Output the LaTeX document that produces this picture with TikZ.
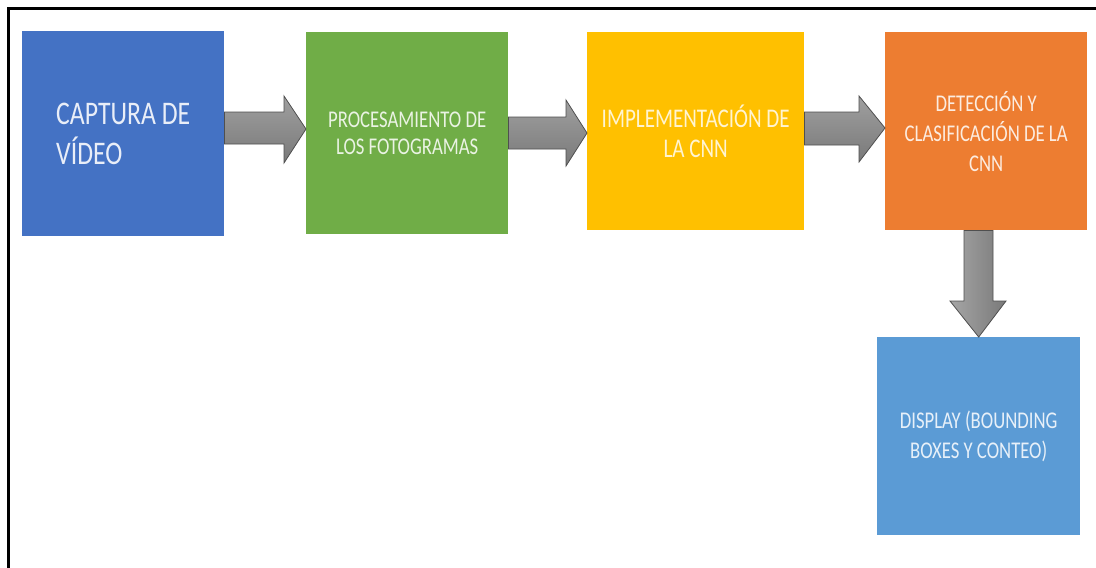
\documentclass[tikz,border=0pt]{standalone}
\usepackage{fontspec}
\newfontfamily\boxfont[FakeStretch=0.78]{Carlito}
\usetikzlibrary{calc}
\definecolor{cblue}{HTML}{4472C4}
\definecolor{cgreen}{HTML}{70AD47}
\definecolor{cyellow}{HTML}{FFC000}
\definecolor{corange}{HTML}{ED7D31}
\definecolor{clblue}{HTML}{5B9BD5}
\definecolor{arrowedge}{HTML}{4F4F4F}
\tikzset{
  stagebox/.style={rectangle, draw=none, inner sep=0pt, anchor=north west, align=center, font=\boxfont},
  blockarrow/.style={draw=arrowedge, line width=0.8pt, line join=miter, top color=gray!75, bottom color=gray!95!black},
  blockarrowdown/.style={draw=arrowedge, line width=0.8pt, line join=miter, left color=gray!70, right color=gray!95!black},
}
\begin{document}
\begin{tikzpicture}[x=1pt,y=-1pt]
\useasboundingbox (0,0) rectangle (1096,568);
\fill[white] (0,0) rectangle (1096,568);
% frame (top and left only)
\draw[line width=2.6pt, black] (8.5,568) -- (8.5,8.5) -- (1096,8.5);

\node[stagebox, fill=cblue, minimum width=202pt, minimum height=205pt, align=left,
  text=white!88!cblue, font=\boxfont\fontsize{33}{40}\selectfont] (cap) at (22,31)
  {CAPTURA DE\\VÍDEO};
\node[stagebox, fill=cgreen, minimum width=202pt, minimum height=202pt,
  text=white!85!cgreen, font=\boxfont\fontsize{24}{27}\selectfont] (proc) at (306,32)
  {PROCESAMIENTO DE\\LOS FOTOGRAMAS};
\node[stagebox, fill=cyellow, minimum width=217pt, minimum height=198pt,
  text=white!82!cyellow, font=\boxfont\fontsize{27}{30}\selectfont] (impl) at (587,32)
  {IMPLEMENTACIÓN DE\\LA CNN};
\node[stagebox, fill=corange, minimum width=202pt, minimum height=198pt,
  text=white!85!corange, font=\boxfont\fontsize{24}{30}\selectfont] (det) at (885,32)
  {DETECCIÓN Y\\CLASIFICACIÓN DE LA\\CNN};
\node[stagebox, fill=clblue, minimum width=203pt, minimum height=198pt,
  text=white!85!clblue, font=\boxfont\fontsize{24}{30}\selectfont] (disp) at (877,337)
  {DISPLAY (BOUNDING\\BOXES Y CONTEO)};

% arrows
\draw[blockarrow] (cap.east |- 0,112) -- (284,112) -- (284,96) -- (proc.west |- 0,129)
  -- (284,163) -- (284,144) -- (cap.east |- 0,144) -- cycle;
\draw[blockarrow] (proc.east |- 0,117) -- (566,117) -- (566,100) -- (impl.west |- 0,133)
  -- (566,166) -- (566,149) -- (proc.east |- 0,149) -- cycle;
\draw[blockarrow] (impl.east |- 0,112) -- (859,112) -- (859,96) -- (det.west |- 0,128)
  -- (859,162) -- (859,145) -- (impl.east |- 0,145) -- cycle;
\draw[blockarrowdown] (964,0 |- det.south) -- (964,301) -- (950,301) -- (disp.north)
  -- (1006,301) -- (993,301) -- (993,0 |- det.south) -- cycle;
\end{tikzpicture}
\end{document}
